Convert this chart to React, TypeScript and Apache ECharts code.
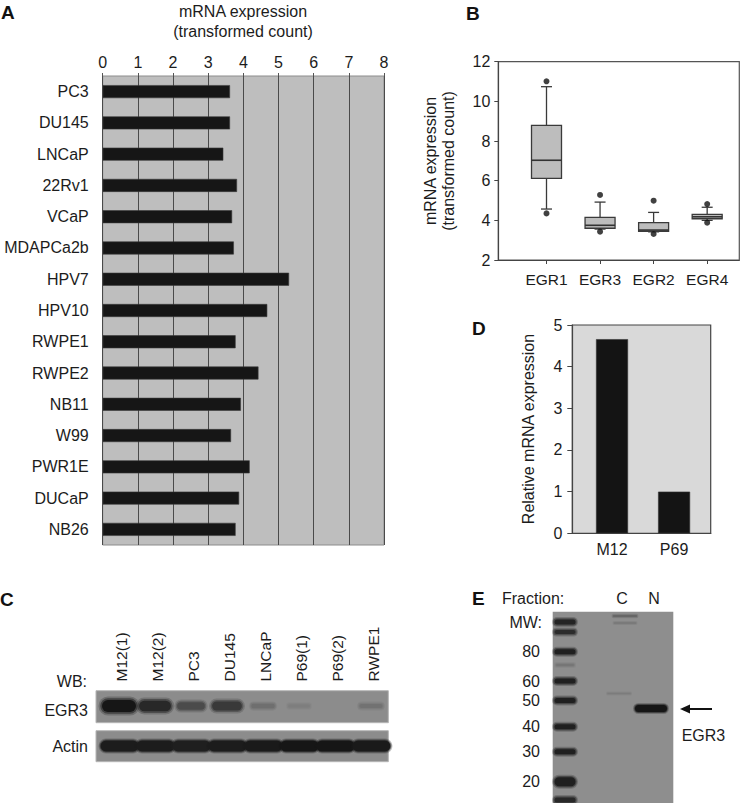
import React, { useEffect, useRef } from "react";
import * as echarts from "echarts";

// ---------- Panel A data ----------
const cellLines = ["PC3", "DU145", "LNCaP", "22Rv1", "VCaP", "MDAPCa2b", "HPV7", "HPV10", "RWPE1", "RWPE2", "NB11", "W99", "PWR1E", "DUCaP", "NB26"];
const egr3Expression = [3.62, 3.62, 3.43, 3.82, 3.68, 3.73, 5.3, 4.68, 3.78, 4.43, 3.93, 3.65, 4.18, 3.88, 3.78];

// ---------- Panel B data ----------
const egrGenes = ["EGR1", "EGR3", "EGR2", "EGR4"];
const boxLow = [4.57, 3.56, 3.42, 4.0];
const boxQ1 = [6.12, 3.6, 3.45, 4.08];
const boxMedian = [7.03, 3.75, 3.51, 4.18];
const boxQ3 = [8.79, 4.15, 3.88, 4.3];
const boxHigh = [10.74, 4.92, 4.4, 4.66];
const outlierGene = ["EGR1", "EGR1", "EGR3", "EGR3", "EGR2", "EGR2", "EGR4", "EGR4"];
const outlierValue = [11.01, 4.35, 5.28, 3.43, 4.99, 3.31, 4.82, 3.88];

// ---------- Panel D data ----------
const relGroups = ["M12", "P69"];
const relExpression = [4.66, 1.0];

// ---------- Panel C (western blot) ----------
const blotLanes = ["M12(1)", "M12(2)", "PC3", "DU145", "LNCaP", "P69(1)", "P69(2)", "RWPE1"];
const egr3Signal = [1.0, 0.85, 0.55, 0.7, 0.25, 0.12, 0.0, 0.22];
const actinSignal = [0.95, 0.95, 0.92, 0.95, 0.97, 1.0, 1.0, 0.97];

// ---------- Panel E (fractionation gel) ----------
const mwMarkers = [80, 60, 50, 40, 30, 20];
const fractions = ["C", "N"];

const FONT = '"Liberation Sans", Arial, Helvetica, sans-serif';

type TxtOpts = { size?: number; weight?: string; color?: string; align?: string; valign?: string; rotation?: number };
const txt = (text: string, x: number, y: number, o: TxtOpts = {}) => ({
  type: "text",
  x,
  y,
  rotation: o.rotation || 0,
  silent: true,
  style: {
    text,
    fontSize: o.size || 16,
    fontFamily: FONT,
    fontWeight: o.weight || "normal",
    fill: o.color || "#1c1c1c",
    align: o.align || "left",
    verticalAlign: o.valign || "middle",
    textAlign: o.align || "left",
    textVerticalAlign: o.valign || "middle",
  },
});

const grayFor = (signal: number, bg: number) => {
  const v = Math.round(bg - (bg - 22) * signal);
  return `rgb(${v},${v},${v})`;
};

// soft band: layered rounded rects to mimic blur
const band = (cx: number, cy: number, w: number, h: number, signal: number, bg: number, spread = 3) => {
  const layers = [
    { grow: spread * 2, op: 0.25 },
    { grow: spread, op: 0.5 },
    { grow: 0, op: 1 },
  ];
  return {
    type: "group",
    silent: true,
    children: layers.map((l) => {
      const ww = w + l.grow;
      const hh = h + l.grow;
      return {
        type: "rect",
        silent: true,
        shape: { x: cx - ww / 2, y: cy - hh / 2, width: ww, height: hh, r: hh / 2 },
        style: { fill: grayFor(signal, bg), opacity: l.op },
      };
    }),
  };
};

function buildGraphics() {
  const g: any[] = [];
  // Panel letters
  g.push(txt("A", 1, 12, { size: 19, weight: "bold", color: "#111" }));
  g.push(txt("B", 466, 13, { size: 19, weight: "bold", color: "#111" }));
  g.push(txt("C", 0, 599, { size: 19, weight: "bold", color: "#111" }));
  g.push(txt("D", 472, 328, { size: 19, weight: "bold", color: "#111" }));
  g.push(txt("E", 472, 598, { size: 19, weight: "bold", color: "#111" }));

  // Panel A title
  g.push(txt("mRNA expression", 243, 11, { align: "center" }));
  g.push(txt("(transformed count)", 243, 31, { align: "center" }));

  // Panel B y label
  g.push(txt("mRNA expression", 430, 161, { align: "center", rotation: Math.PI / 2 }));
  g.push(txt("(transformed count)", 448, 161, { align: "center", rotation: Math.PI / 2 }));

  // Panel D y label
  g.push(txt("Relative mRNA expression", 528, 429, { align: "center", rotation: Math.PI / 2 }));

  // ---- Panel C ----
  const laneX0 = 121.5;
  const laneStep = 36;
  const blotLeft = 96;
  const blotRight = 388.3;
  blotLanes.forEach((name, i) => {
    g.push(txt(name, laneX0 + i * laneStep, 681.5, { size: 15.5, align: "left", rotation: Math.PI / 2 }));
  });
  g.push(txt("WB:", 87, 681, { align: "right" }));
  g.push(txt("EGR3", 88, 710, { align: "right" }));
  g.push(txt("Actin", 88, 746, { align: "right" }));

  const bgC = 140;
  g.push({
    type: "rect",
    silent: true,
    shape: { x: blotLeft, y: 690.7, width: blotRight - blotLeft, height: 32 },
    style: { fill: grayFor(0, bgC), stroke: "#b5b5b5", lineWidth: 1 },
  });
  g.push({
    type: "rect",
    silent: true,
    shape: { x: blotLeft, y: 730.7, width: blotRight - blotLeft, height: 31 },
    style: { fill: grayFor(0, bgC), stroke: "#b5b5b5", lineWidth: 1 },
  });
  egr3Signal.forEach((s, i) => {
    if (s <= 0.01) return;
    const cx = laneX0 + i * laneStep - 2.5;
    const w = 20 + 14 * s;
    const h = 2 + 10 * s;
    g.push(band(cx, 706, w, h, s, bgC, 2 + 1.5 * s));
  });
  actinSignal.forEach((s, i) => {
    const cx = laneX0 + i * laneStep - 2;
    g.push(band(cx, 746, 38, 9 + 2 * s, s, bgC, 2));
  });

  // ---- Panel E ----
  const bgE = 142;
  const gelLeft = 552.7;
  const gelTop = 611.7;
  g.push({
    type: "rect",
    silent: true,
    shape: { x: gelLeft, y: gelTop, width: 120.6, height: 803 - gelTop },
    style: { fill: grayFor(0, bgE) },
  });
  g.push(txt("Fraction:", 502, 598));
  const fracX = [622, 654];
  fractions.forEach((f, i) => g.push(txt(f, fracX[i], 598, { align: "center" })));
  g.push(txt("MW:", 542, 622, { align: "right" }));
  const markerY = [651.7, 681, 700.5, 726.7, 751.7, 781.7];
  mwMarkers.forEach((m, i) => {
    g.push(txt(String(m), 540, markerY[i], { align: "right" }));
    g.push(band(565, markerY[i], 21, m === 20 ? 9 : 5, 0.92, bgE, 2.5));
  });
  // extra ladder bands (top and faint)
  g.push(band(565, 622, 21, 5, 0.88, bgE, 2.5));
  g.push(band(565, 632, 21, 4, 0.82, bgE, 2.5));
  g.push(band(565, 665, 18, 2, 0.2, bgE, 2));
  g.push(band(565, 800, 21, 5, 0.85, bgE, 2.5));
  // C lane faint bands
  g.push(band(625, 616, 24, 1.5, 0.35, bgE, 1.5));
  g.push(band(625, 623, 22, 1, 0.2, bgE, 1.5));
  g.push(band(619, 693.5, 23, 1, 0.15, bgE, 1.5));
  // N lane EGR3 band
  g.push(band(651, 708.5, 32, 7, 1.0, bgE, 2));
  // arrow
  g.push({
    type: "line",
    silent: true,
    shape: { x1: 687, y1: 709, x2: 712, y2: 709 },
    style: { stroke: "#111", lineWidth: 2 },
  });
  g.push({
    type: "polygon",
    silent: true,
    shape: { points: [[680, 709], [690, 704.5], [690, 713.5]] },
    style: { fill: "#111" },
  });
  g.push(txt("EGR3", 681.7, 735));
  return g;
}

export default function App() {
  const ref = useRef<HTMLDivElement>(null);
  useEffect(() => {
    document.body.style.margin = "0";
    if (!ref.current) return;
    const chart = echarts.init(ref.current, undefined, { renderer: "svg" });

    const boxData = egrGenes.map((_, i) => [i + 1, boxLow[i], boxQ1[i], boxMedian[i], boxQ3[i], boxHigh[i]]);
    const outlierData = outlierGene.map((g, i) => [egrGenes.indexOf(g) + 1, outlierValue[i]]);
    const relData = relGroups.map((_, i) => [i + 1, relExpression[i]]);

    const labelStyle = { fontSize: 16, color: "#1c1c1c", fontFamily: FONT };

    const option: any = {
      animation: false,
      backgroundColor: "#ffffff",
      textStyle: { fontFamily: FONT },
      grid: [
        { left: 102.7, top: 76, width: 281.3, height: 469, show: true, backgroundColor: "#bebebe", borderColor: "#8c8c8c", borderWidth: 1 },
        { left: 498.3, top: 61.7, width: 241, height: 198.3, show: true, backgroundColor: "#ffffff", borderColor: "#555555", borderWidth: 1.2 },
        { left: 572.3, top: 325, width: 138.4, height: 208.3, show: true, backgroundColor: "#d9d9d9", borderColor: "#444444", borderWidth: 1.2 },
      ],
      xAxis: [
        {
          gridIndex: 0,
          type: "value",
          position: "top",
          min: 0,
          max: 8,
          interval: 1,
          axisLine: { show: false },
          axisTick: { show: true, length: 3, lineStyle: { color: "#555" } },
          axisLabel: { ...labelStyle, margin: 6 },
          splitLine: { show: true, lineStyle: { color: "#4a4a4a", width: 1 } },
        },
        {
          gridIndex: 1,
          type: "value",
          min: 0.1,
          max: 4.6,
          axisLine: { show: true, lineStyle: { color: "#444", width: 1.2 } },
          axisTick: { show: true, customValues: [1, 2, 3, 4], length: 4, lineStyle: { color: "#444" } },
          axisLabel: {
            ...labelStyle,
            fontSize: 15.5,
            margin: 11,
            customValues: [1, 2, 3, 4],
            formatter: (v: number) => egrGenes[Math.round(v) - 1] ?? "",
          },
          splitLine: { show: false },
        },
        {
          gridIndex: 2,
          type: "value",
          min: 0.36,
          max: 2.59,
          axisLine: { show: true, lineStyle: { color: "#444", width: 1.2 } },
          axisTick: { show: false },
          axisLabel: {
            ...labelStyle,
            margin: 8,
            customValues: [1, 2],
            formatter: (v: number) => relGroups[Math.round(v) - 1] ?? "",
          },
          splitLine: { show: false },
        },
      ],
      yAxis: [
        {
          gridIndex: 0,
          type: "category",
          data: cellLines,
          inverse: true,
          axisLine: { show: false },
          axisTick: { show: false },
          axisLabel: { ...labelStyle, margin: 14 },
          splitLine: { show: false },
        },
        {
          gridIndex: 1,
          type: "value",
          min: 2,
          max: 12,
          interval: 2,
          axisLine: { show: true, lineStyle: { color: "#444", width: 1.2 } },
          axisTick: { show: true, length: 4, lineStyle: { color: "#444" } },
          axisLabel: { ...labelStyle, margin: 8 },
          splitLine: { show: false },
        },
        {
          gridIndex: 2,
          type: "value",
          min: 0,
          max: 5,
          interval: 1,
          axisLine: { show: true, lineStyle: { color: "#444", width: 1.2 } },
          axisTick: { show: true, length: 5, lineStyle: { color: "#444" } },
          axisLabel: { ...labelStyle, margin: 10 },
          splitLine: { show: false },
        },
      ],
      series: [
        {
          type: "bar",
          xAxisIndex: 0,
          yAxisIndex: 0,
          data: egr3Expression,
          barWidth: 13,
          itemStyle: { color: "#161616", borderColor: "#3a3a3a", borderWidth: 0.6 },
        },
        {
          type: "custom",
          xAxisIndex: 1,
          yAxisIndex: 1,
          data: boxData,
          encode: { x: 0, y: [1, 2, 3, 4, 5] },
          renderItem: (_params: any, api: any) => {
            const x = api.value(0);
            const lo = api.coord([x, api.value(1)]);
            const q1 = api.coord([x, api.value(2)]);
            const md = api.coord([x, api.value(3)]);
            const q3 = api.coord([x, api.value(4)]);
            const hi = api.coord([x, api.value(5)]);
            const cx = lo[0];
            const hw = 15;
            const cw = 5.5;
            const ls = { stroke: "#3a3a3a", lineWidth: 1.3 };
            return {
              type: "group",
              children: [
                { type: "line", shape: { x1: cx, y1: hi[1], x2: cx, y2: q3[1] }, style: ls },
                { type: "line", shape: { x1: cx - cw, y1: hi[1], x2: cx + cw, y2: hi[1] }, style: ls },
                { type: "line", shape: { x1: cx, y1: q1[1], x2: cx, y2: lo[1] }, style: ls },
                { type: "line", shape: { x1: cx - cw, y1: lo[1], x2: cx + cw, y2: lo[1] }, style: ls },
                {
                  type: "rect",
                  shape: { x: cx - hw, y: q3[1], width: hw * 2, height: q1[1] - q3[1] },
                  style: { fill: "#bdbdbd", stroke: "#3a3a3a", lineWidth: 1.3 },
                },
                { type: "line", shape: { x1: cx - hw, y1: md[1], x2: cx + hw, y2: md[1] }, style: { stroke: "#333", lineWidth: 1.6 } },
              ],
            };
          },
        },
        {
          type: "scatter",
          xAxisIndex: 1,
          yAxisIndex: 1,
          data: outlierData,
          symbolSize: 6,
          itemStyle: { color: "#111" },
        },
        {
          type: "bar",
          xAxisIndex: 2,
          yAxisIndex: 2,
          data: relData,
          barWidth: 32,
          itemStyle: { color: "#141414", borderColor: "#333", borderWidth: 0.6 },
        },
      ],
      graphic: buildGraphics(),
    };

    chart.setOption(option);
    return () => chart.dispose();
  }, []);

  return <div ref={ref} style={{ width: 744, height: 803 }} />;
}
